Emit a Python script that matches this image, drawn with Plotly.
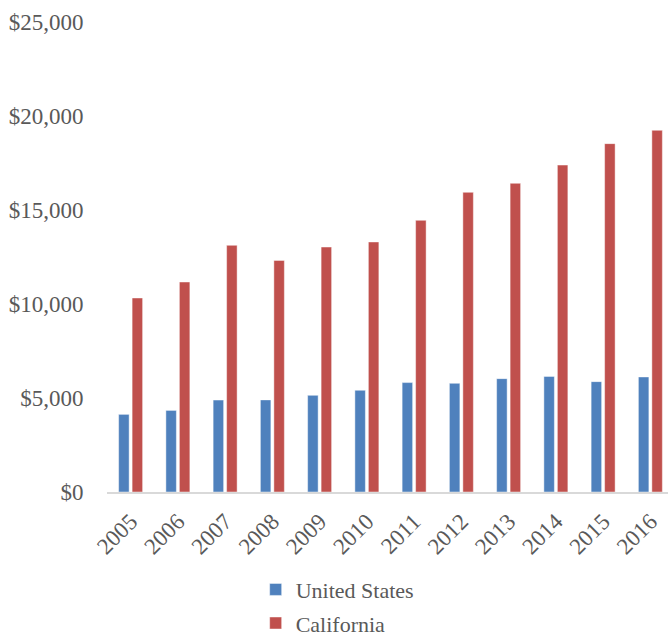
import plotly.graph_objects as go

years = ["2005", "2006", "2007", "2008", "2009", "2010",
         "2011", "2012", "2013", "2014", "2015", "2016"]
united_states = [4130, 4340, 4890, 4900, 5140, 5410,
                 5820, 5780, 6030, 6150, 5870, 6120]
california = [10320, 11170, 13120, 12320, 13030, 13300,
              14450, 15940, 16420, 17390, 18530, 19240]
y_ticks = [0, 5000, 10000, 15000, 20000, 25000]
y_tick_labels = ["$0", "$5,000", "$10,000", "$15,000", "$20,000", "$25,000"]

FONT = "Liberation Serif"
GRAY = "#595959"
FS = 23

fig = go.Figure()
fig.add_trace(go.Bar(
    x=years, y=united_states, name="United States",
    marker=dict(color="#4F81BD", line=dict(color="rgba(255,255,255,0.45)", width=1)),
    legendgroup="us",
))
fig.add_trace(go.Bar(
    x=years, y=california, name="California",
    marker=dict(color="#C0504D", line=dict(color="rgba(255,255,255,0.45)", width=1)),
    legendgroup="ca",
))

fig.update_layout(
    width=668, height=636,
    margin=dict(l=107, r=0, t=22, b=144, autoexpand=False),
    paper_bgcolor="white", plot_bgcolor="white",
    barmode="group", bargap=0.429, bargroupgap=0.222,
    font=dict(family=FONT, size=FS, color=GRAY),
    showlegend=True,
    legend=dict(
        orientation="v", x=0.265, xanchor="left", y=-0.163, yanchor="top",
        font=dict(family=FONT, size=22, color=GRAY),
        tracegroupgap=2, bgcolor="rgba(0,0,0,0)",
    ),
    xaxis=dict(
        type="category", range=[-0.5, 11.373], automargin=False,
        showline=True, linecolor="#D9D9D9", linewidth=2,
        showgrid=False, zeroline=False,
        ticks="outside", ticklen=5, tickcolor="rgba(0,0,0,0)",
        tickangle=-45, tickfont=dict(family=FONT, size=FS, color=GRAY),
    ),
    yaxis=dict(
        range=[0, 25000], tickvals=y_ticks, ticktext=y_tick_labels,
        automargin=False,
        showgrid=False, zeroline=False, showline=False,
        ticks="outside", ticklen=18, tickcolor="rgba(0,0,0,0)",
        tickfont=dict(family=FONT, size=FS, color=GRAY),
    ),
)

fig.write_html(
    "out.html",
    config={"displayModeBar": False},
    post_script="document.body.style.margin='0';document.body.style.overflow='hidden';",
)
